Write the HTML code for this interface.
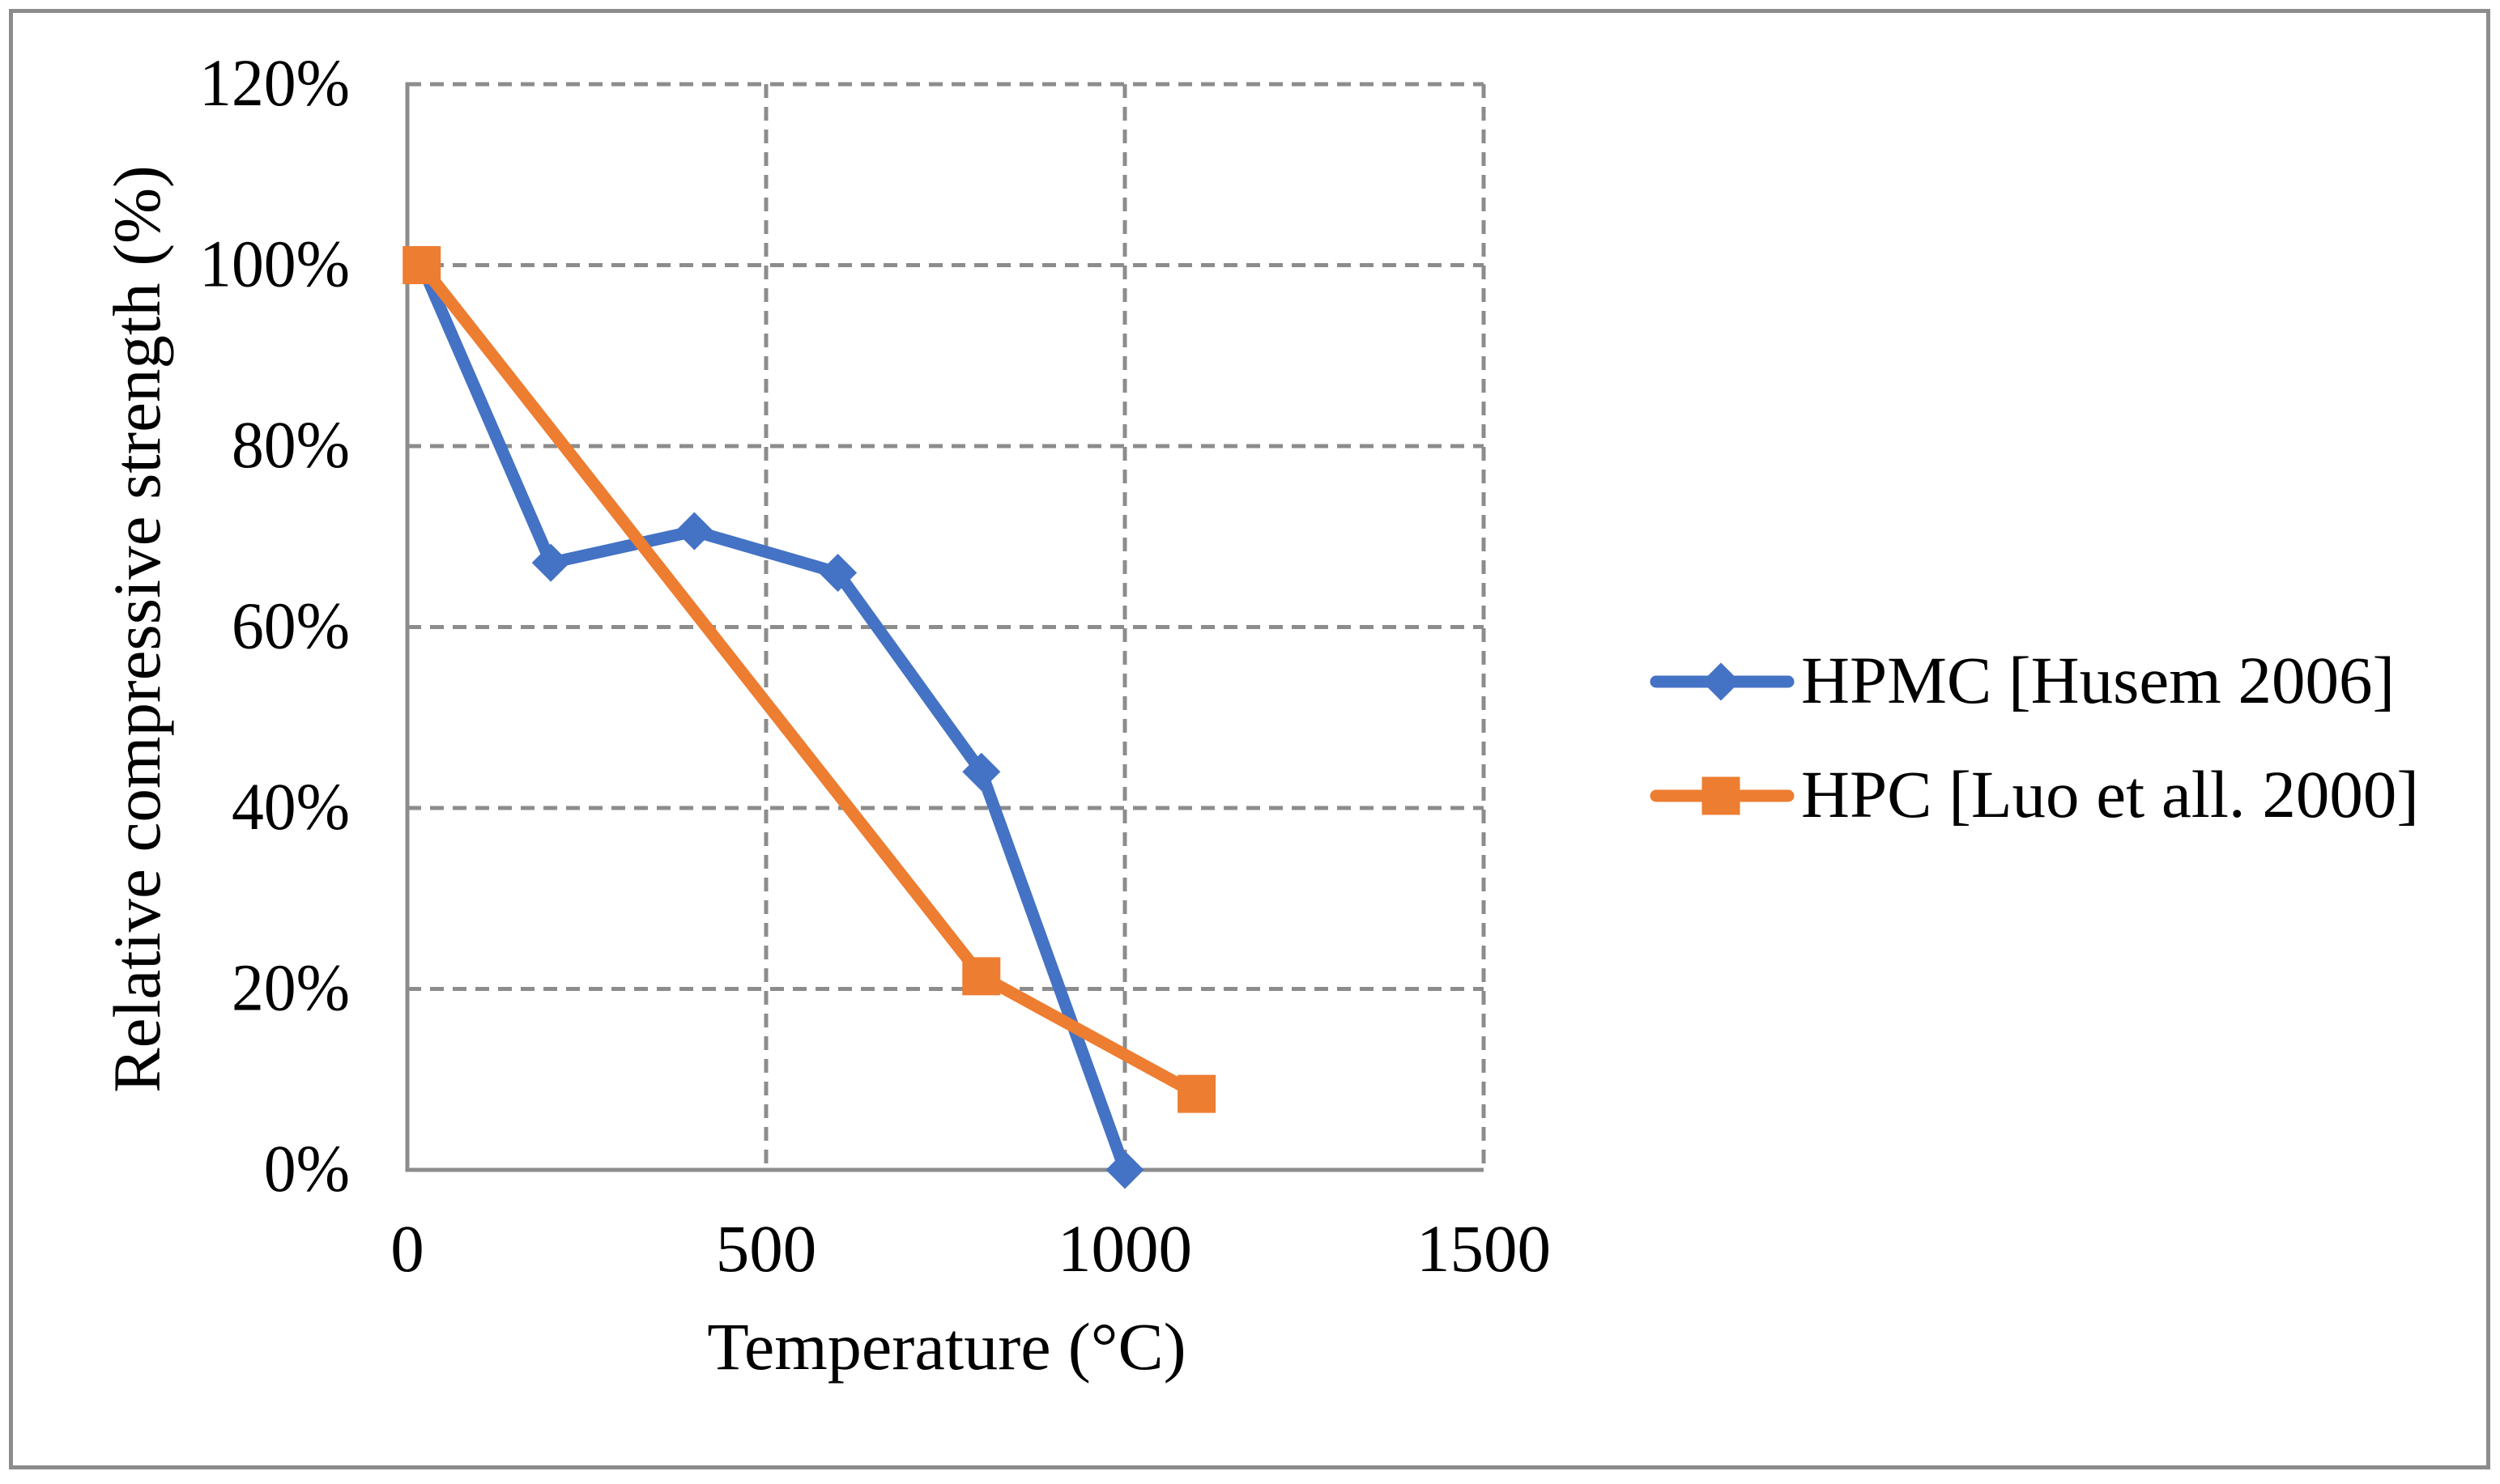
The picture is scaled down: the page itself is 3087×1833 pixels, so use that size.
<!DOCTYPE html>
<html>
<head>
<meta charset="utf-8">
<title>Relative compressive strength vs temperature</title>
<style>
html,body{margin:0;padding:0;background:#fff;}
svg{display:block;}
text{font-family:"Liberation Serif","Times New Roman",serif;font-size:83px;fill:#000;}
</style>
</head>
<body>
<svg id="chart" xmlns="http://www.w3.org/2000/svg" width="3087" height="1833" viewBox="0 0 3087 1833">
<rect x="0" y="0" width="3087" height="1833" fill="#ffffff"/>
<rect x="13.5" y="13.5" width="3059" height="1799" fill="none" stroke="#8c8c8c" stroke-width="5"/>
<g id="grid"></g>
<g id="axes"></g>
<g id="ticks"></g>
<text text-anchor="middle" transform="translate(1169 1691) scale(1.015 1)">Temperature (°C)</text>
<text text-anchor="middle" transform="translate(197 777) rotate(-90)">Relative compressive strength (%)</text>
<g id="series"></g>
<g id="legend"></g>
</svg>
<script>
var xTicks = [0, 500, 1000, 1500];
var yTicks = [0, 20, 40, 60, 80, 100, 120];
var hpmcName = 'HPMC [Husem 2006]';
var hpmcTemps = [20, 200, 400, 600, 800, 1000];
var hpmcValues = [100, 67.1, 70.6, 66, 44, 0];
var hpcName = 'HPC [Luo et all. 2000]';
var hpcTemps = [20, 800, 1100];
var hpcValues = [100, 21.4, 8.4];

var NS = 'http://www.w3.org/2000/svg';
var GRAY = '#8c8c8c';
var BLUE = '#4472c4';
var ORANGE = '#ed7d31';

function sx(v) { return 503 + (v / 1500) * 1329; }
function sy(v) { return 1445 - (v / 120) * 1341; }

function make(tag, attrs, parent) {
  var el = document.createElementNS(NS, tag);
  for (var k in attrs) el.setAttribute(k, attrs[k]);
  parent.appendChild(el);
  return el;
}

function diamondPoints(cx, cy) {
  var r = 23.5;
  return (cx - r) + ',' + cy + ' ' + cx + ',' + (cy - r) + ' ' + (cx + r) + ',' + cy + ' ' + cx + ',' + (cy + r);
}

var gridG = document.getElementById('grid');
var axesG = document.getElementById('axes');
var ticksG = document.getElementById('ticks');
var seriesG = document.getElementById('series');
var legendG = document.getElementById('legend');

yTicks.forEach(function (t) {
  if (t === 0) return;
  var line = make('line', {x1: sx(0), x2: sx(1500), y1: sy(t), y2: sy(t), stroke: GRAY, 'stroke-width': 5, 'stroke-dasharray': '17 11'}, gridG);
  
  
});
xTicks.forEach(function (t) {
  if (t === 0) return;
  var line = make('line', {x1: sx(t), x2: sx(t), y1: sy(120), y2: sy(0), stroke: GRAY, 'stroke-width': 5, 'stroke-dasharray': '17 11'}, gridG);
  
  
});

var yAxis = make('line', {x1: sx(0), x2: sx(0), y1: sy(120) - 2.5, y2: sy(0) + 2.5, stroke: GRAY, 'stroke-width': 5}, axesG);


var xAxis = make('line', {x1: sx(0) - 2.5, x2: sx(1500), y1: sy(0), y2: sy(0), stroke: GRAY, 'stroke-width': 5}, axesG);



yTicks.forEach(function (t) {
  var label = make('text', {'text-anchor': 'end', transform: 'translate(432 ' + (sy(t) + 26) + ') scale(0.96 1)'}, ticksG);
  label.textContent = t + '%';
  
  
});
xTicks.forEach(function (t) {
  var label = make('text', {x: sx(t), y: 1570, 'text-anchor': 'middle'}, ticksG);
  label.textContent = String(t);
  
  
});

function linePoints(xs, ys) {
  return xs.map(function (x, i) { return sx(x) + ',' + sy(ys[i]); }).join(' ');
}

var hpmcLine = make('polyline', {points: linePoints(hpmcTemps, hpmcValues), fill: 'none', stroke: BLUE, 'stroke-width': 15, 'stroke-linejoin': 'round', 'stroke-linecap': 'round'}, seriesG);


hpmcTemps.forEach(function (x, i) {
  var m = make('polygon', {points: diamondPoints(sx(x), sy(hpmcValues[i])), fill: BLUE}, seriesG);
  
  
});

var hpcLine = make('polyline', {points: linePoints(hpcTemps, hpcValues), fill: 'none', stroke: ORANGE, 'stroke-width': 15, 'stroke-linejoin': 'round', 'stroke-linecap': 'round'}, seriesG);


hpcTemps.forEach(function (x, i) {
  var m = make('rect', {x: sx(x) - 23.5, y: sy(hpcValues[i]) - 23.5, width: 47, height: 47, fill: ORANGE}, seriesG);
  
  
});

var blueLegendLine = make('line', {x1: 2045, x2: 2208, y1: 842, y2: 842, stroke: BLUE, 'stroke-width': 15, 'stroke-linecap': 'round'}, legendG);


var blueLegendMark = make('polygon', {points: diamondPoints(2125, 842), fill: BLUE}, legendG);


var blueLegendText = make('text', {x: 2224, y: 868}, legendG);
blueLegendText.textContent = hpmcName;



var orangeLegendLine = make('line', {x1: 2045, x2: 2208, y1: 983, y2: 983, stroke: ORANGE, 'stroke-width': 15, 'stroke-linecap': 'round'}, legendG);


var orangeLegendMark = make('rect', {x: 2101.5, y: 959.5, width: 47, height: 47, fill: ORANGE}, legendG);


var orangeLegendText = make('text', {x: 2224, y: 1009}, legendG);
orangeLegendText.textContent = hpcName;


</script>
</body>
</html>
